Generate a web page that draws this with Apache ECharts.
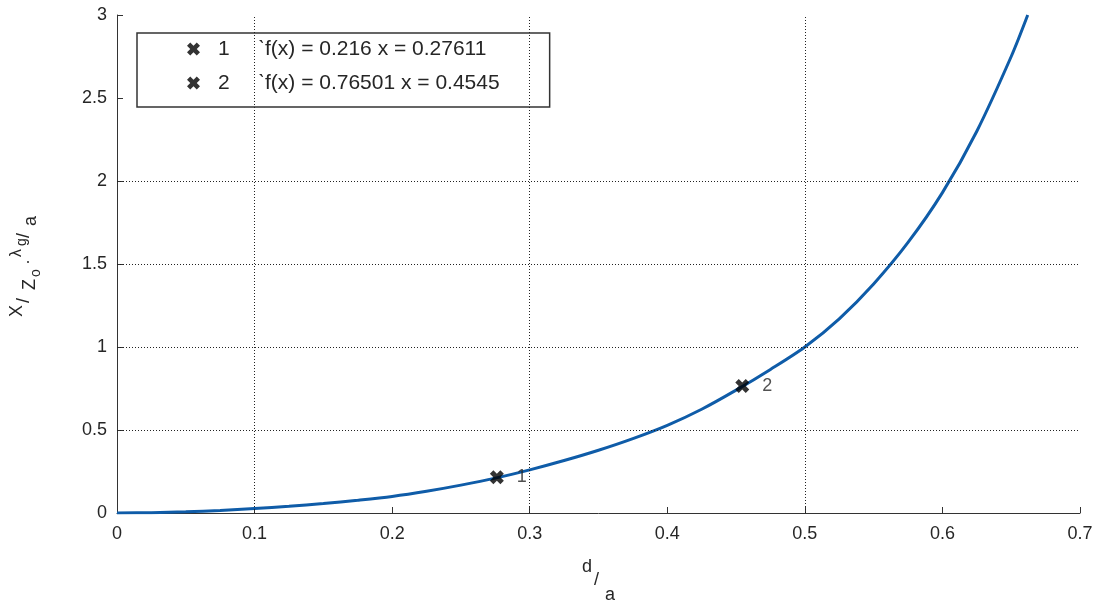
<!DOCTYPE html>
<html>
<head>
<meta charset="utf-8">
<script src="https://cdn.jsdelivr.net/npm/echarts@6/dist/echarts.min.js"></script>
<style>
  html, body { margin: 0; padding: 0; background: #fff; }
  #chart { width: 1099px; height: 605px; }
</style>
</head>
<body>
<div id="chart"></div>
<script>
// curve: d/a against X/Zo * lambda_g/a
const dOverA = [0, 0.025, 0.05, 0.075, 0.1, 0.125, 0.15, 0.175, 0.2, 0.225, 0.25, 0.275, 0.3, 0.325, 0.35,
  0.375, 0.4, 0.425, 0.45, 0.475, 0.5, 0.525, 0.55, 0.575, 0.6, 0.625, 0.65, 0.662]
const reactance = [0, 0.002, 0.007, 0.015, 0.027, 0.04, 0.057, 0.077, 0.1, 0.131, 0.168, 0.21, 0.26, 0.316, 0.378,
  0.448, 0.528, 0.625, 0.74, 0.865, 1.0, 1.17, 1.38, 1.63, 1.93, 2.3, 2.75, 3.0]

// data cursors
const cursorNames = ['1', '2']
const cursorX = [0.27611, 0.4545]
const cursorY = [0.216, 0.76501]
const cursorText = ['f(x) = 0.216 x = 0.27611', 'f(x) = 0.76501 x = 0.4545']

// only these grid lines are drawn
const gridX = [0.1, 0.3, 0.5]
const gridY = [0.5, 1, 1.5, 2]

const cross = 'path://M0,2.5 L2.5,0 L5,2.5 L7.5,0 L10,2.5 L7.5,5 L10,7.5 L7.5,10 L5,7.5 L2.5,10 L0,7.5 L2.5,5 Z'
const font = 'Liberation Sans, Arial, sans-serif'
const ink = '#262626'

const chart = echarts.init(document.getElementById('chart'))

let curve = dOverA.map((x, i) => [x, reactance[i]])

let gridMarks = gridX.map(v => ({ xAxis: v })).concat(gridY.map(v => ({ yAxis: v })))

let cursorSeries = cursorNames.map((n, i) => ({
  name: n,
  type: 'scatter',
  symbol: cross,
  symbolSize: 14,
  itemStyle: { color: '#000' },
  z: 5,
  data: [[cursorX[i], cursorY[i]]],
  label: {
    show: true,
    position: 'right',
    distance: 13,
    formatter: n,
    color: ink,
    fontSize: 18,
    fontFamily: font
  }
}))

// axis titles, with their raised and lowered parts
const xTitle = [
  { t: 'd', x: 582, y: 567, s: 18 },
  { t: '/', x: 594, y: 580, s: 18 },
  { t: 'a', x: 605, y: 595, s: 18 }
]
const yTitle = [
  { t: 'X', x: 1, y: -13, s: 18 },
  { t: '/', x: 15, y: -6, s: 18 },
  { t: 'Z', x: 28, y: 0, s: 18 },
  { t: 'o', x: 41, y: 6, s: 14 },
  { t: '·', x: 53, y: -2, s: 18 },
  { t: 'λ', x: 61, y: -13, s: 16 },
  { t: 'g', x: 72, y: -8, s: 14 },
  { t: '/', x: 80, y: -6, s: 18 },
  { t: 'a', x: 92, y: 1, s: 18 }
]

const option = {
  animation: false,
  backgroundColor: '#fff',
  grid: { left: 117, right: 19, top: 15, bottom: 92, containLabel: false, outerBoundsMode: 'none' },
  legend: {
    orient: 'vertical',
    left: 137,
    top: 33,
    padding: [4, 50, 12, 50],
    itemGap: 10,
    itemWidth: 13,
    itemHeight: 13,
    borderColor: '#333',
    borderWidth: 1.5,
    borderRadius: 0,
    backgroundColor: '#fff',
    data: cursorNames.map(n => ({ name: n, icon: cross, itemStyle: { color: '#000' } })),
    formatter: name => '{n|' + name + '}{t|ˋ' + cursorText[cursorNames.indexOf(name)] + '}',
    textStyle: {
      color: ink,
      fontFamily: font,
      fontSize: 21,
      lineHeight: 24,
      rich: {
        n: { fontSize: 21, fontFamily: font, color: ink, width: 40, padding: [0, 0, 0, 13] },
        t: { fontSize: 21, fontFamily: font, color: ink }
      }
    }
  },
  xAxis: {
    type: 'value',
    min: 0,
    max: 0.7,
    interval: 0.1,
    axisLine: { onZero: false, lineStyle: { color: '#333', width: 1 } },
    axisTick: { inside: true, length: 6, lineStyle: { color: '#333' } },
    axisLabel: { margin: 12, color: ink, fontSize: 18, fontFamily: font },
    splitLine: { show: false }
  },
  yAxis: {
    type: 'value',
    min: 0,
    max: 3,
    interval: 0.5,
    axisLine: { show: true, onZero: false, lineStyle: { color: '#333', width: 1 } },
    axisTick: { show: true, inside: true, length: 6, lineStyle: { color: '#333' } },
    axisLabel: { margin: 10, color: ink, fontSize: 18, fontFamily: font },
    splitLine: { show: false }
  },
  series: [
    {
      type: 'line',
      data: [],
      z: 1,
      silent: true,
      markLine: {
        silent: true,
        symbol: ['none', 'none'],
        label: { show: false },
        lineStyle: { color: '#222', width: 1, type: [1, 2] },
        data: gridMarks
      }
    },
    {
      type: 'line',
      data: curve,
      smooth: 0.3,
      showSymbol: false,
      z: 3,
      lineStyle: { color: '#0f5ca8', width: 3 }
    }
  ].concat(cursorSeries),
  graphic: [
    {
      type: 'group',
      x: 0,
      y: 0,
      children: xTitle.map(p => ({
        type: 'text',
        x: p.x,
        y: p.y,
        style: { text: p.t, fontSize: p.s, fontFamily: font, fill: ink, textVerticalAlign: 'middle' }
      }))
    },
    {
      type: 'group',
      x: 30,
      y: 318,
      rotation: Math.PI / 2,
      children: yTitle.map(p => ({
        type: 'text',
        x: p.x,
        y: p.y,
        style: { text: p.t, fontSize: p.s, fontFamily: font, fill: ink, textVerticalAlign: 'middle' }
      }))
    }
  ]
}

chart.setOption(option)
</script>
</body>
</html>
